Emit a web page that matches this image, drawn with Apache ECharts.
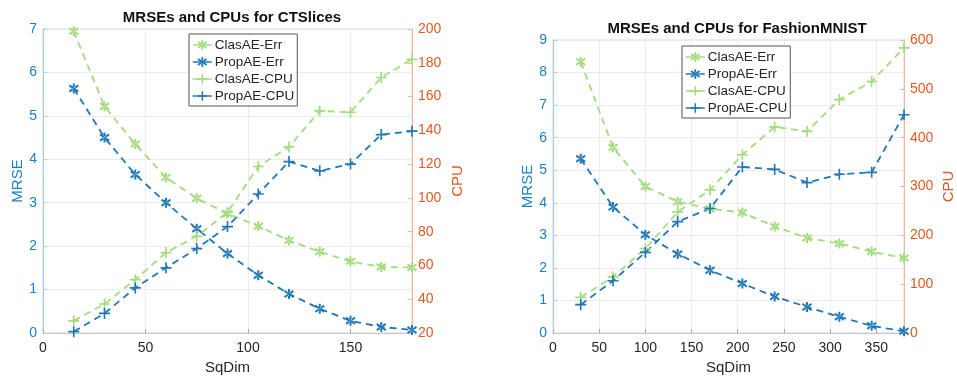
<!DOCTYPE html>
<html>
<head>
<meta charset="utf-8">
<script src="https://cdn.jsdelivr.net/npm/echarts@6/dist/echarts.min.js"></script>
<style>
  html, body { margin: 0; padding: 0; background: #fff; }
  #chart { width: 957px; height: 380px; }
</style>
</head>
<body>
<div id="chart"></div>
<script>
// CTSlices panel
const ctDims = [15, 30, 45, 60, 75, 90, 105, 120, 135, 150, 165, 180];
const ctClasErr = [6.95, 5.22, 4.35, 3.58, 3.1, 2.75, 2.46, 2.13, 1.87, 1.65, 1.52, 1.51];
const ctPropErr = [5.63, 4.5, 3.65, 3.0, 2.4, 1.83, 1.33, 0.9, 0.56, 0.28, 0.14, 0.07];
const ctClasCpu = [27.2, 37.2, 51.6, 67.6, 77.3, 91.5, 118.6, 130.2, 151.5, 150.7, 171.3, 182];
const ctPropCpu = [20.8, 31.6, 46.7, 58.6, 70, 83, 102.3, 121.5, 116, 120, 137.5, 139.5];

// FashionMNIST panel
const fmDims = [30, 65, 100, 135, 170, 205, 240, 275, 310, 345, 380];
const fmClasErr = [8.33, 5.7, 4.5, 4.03, 3.82, 3.7, 3.27, 2.92, 2.75, 2.5, 2.3];
const fmPropErr = [5.35, 3.87, 3.02, 2.43, 1.93, 1.52, 1.12, 0.8, 0.5, 0.22, 0.05];
const fmClasCpu = [73, 115, 173, 248, 293, 365, 422, 413, 478, 515, 584];
const fmPropCpu = [58, 107, 165, 228, 255, 340, 335, 308, 325, 329, 447];

const legendNames = ["ClasAE-Err", "PropAE-Err", "ClasAE-CPU", "PropAE-CPU"];

const blue = "#1f78b8";
const green = "#a3dc7c";
const axisBlue = "#1b80c8";
const axisOrange = "#e05a22";
const font = "'Liberation Sans', Arial, sans-serif";

// asterisk and plus markers (filled bars)
const starPath = "path://M8,0H12V20H8Z M0,5.5L2,2L20,14.5L18,18Z M0,14.5L2,18L20,5.5L18,2Z";
const plusPath = "path://M8.5,0H11.5V20H8.5Z M0,8.5H20V11.5H0Z";

const pairs = (xs, ys) => xs.map((x, i) => [x, ys[i]]);

function makeSeries(name, data, gi, yi, isStar, color) {
  return {
    name,
    type: "line",
    xAxisIndex: gi,
    yAxisIndex: yi,
    data,
    symbol: isStar ? starPath : plusPath,
    symbolSize: isStar ? 10 : 11,
    showSymbol: true,
    itemStyle: { color },
    lineStyle: { color, width: 1.8, type: [7, 5] },
    emphasis: { disabled: true },
    animation: false,
  };
}

function makeXAxis(gi, max, interval) {
  return {
    type: "value",
    gridIndex: gi,
    min: 0,
    max,
    interval,
    name: "SqDim",
    nameLocation: "middle",
    nameGap: 27,
    nameTextStyle: { color: "#262626", fontSize: 15, fontFamily: font },
    axisLine: { show: true, lineStyle: { color: "#c8c8c8" } },
    axisTick: { show: true, inside: true, length: 4, lineStyle: { color: "#aaa" } },
    axisLabel: { color: "#262626", fontSize: 14, fontFamily: font, margin: 8, showMaxLabel: false },
    splitLine: { show: true, lineStyle: { color: "#ebebeb" } },
  };
}

function makeYAxis(gi, pos, min, max, interval, name, color, lineColor, split, gap) {
  return {
    type: "value",
    gridIndex: gi,
    position: pos,
    min,
    max,
    interval,
    name,
    nameLocation: "middle",
    nameGap: gap,
    nameTextStyle: { color, fontSize: 15, fontFamily: font },
    axisLine: { show: true, onZero: false, lineStyle: { color: lineColor } },
    axisTick: { show: true, inside: true, length: 4, lineStyle: { color: lineColor } },
    axisLabel: { color, fontSize: 14, fontFamily: font, margin: 6 },
    splitLine: { show: split, lineStyle: { color: "#ebebeb" } },
  };
}

function makeLegend(left, top) {
  return {
    show: true,
    data: legendNames.map((n) => ({ name: n })),
    orient: "vertical",
    left,
    top,
    itemWidth: 19,
    itemHeight: 12,
    itemGap: 3,
    padding: [4, 3, 3, 3],
    borderColor: "#555",
    borderWidth: 1,
    backgroundColor: "#fff",
    selectedMode: false,
    lineStyle: { type: "solid", width: 1.5 },
    textStyle: { color: "#262626", fontSize: 13.5, fontFamily: font, padding: [0, 0, 0, -2] },
  };
}

const chart = echarts.init(document.getElementById("chart"));

chart.setOption({
  animation: false,
  backgroundColor: "#fff",
  title: [
    {
      text: "MRSEs and CPUs for CTSlices",
      left: 227,
      top: 5,
      textAlign: "center",
      textStyle: { fontSize: 15, fontWeight: "bold", color: "#111", fontFamily: font },
    },
    {
      text: "MRSEs and CPUs for FashionMNIST",
      left: 732,
      top: 16,
      textAlign: "center",
      textStyle: { fontSize: 15, fontWeight: "bold", color: "#111", fontFamily: font },
    },
  ],
  grid: [
    { left: 43, top: 29, width: 369, height: 307, show: true, borderColor: "#d8d8d8", borderWidth: 1, backgroundColor: "transparent" },
    { left: 553, top: 40, width: 357, height: 297, show: true, borderColor: "#d8d8d8", borderWidth: 1, backgroundColor: "transparent" },
  ],
  legend: [makeLegend(189, 34), makeLegend(682, 46)],
  xAxis: [makeXAxis(0, 180, 50), makeXAxis(1, 380, 50)],
  yAxis: [
    makeYAxis(0, "left", 0, 7, 1, "MRSE", axisBlue, "#a8cde9", true, 14),
    makeYAxis(0, "right", 20, 200, 20, "CPU", axisOrange, "#f0b79c", false, 38),
    makeYAxis(1, "left", 0, 9, 1, "MRSE", axisBlue, "#a8cde9", true, 18),
    makeYAxis(1, "right", 0, 600, 100, "CPU", axisOrange, "#f0b79c", false, 37),
  ],
  series: [
    makeSeries("ClasAE-Err", pairs(ctDims, ctClasErr), 0, 0, true, green),
    makeSeries("PropAE-Err", pairs(ctDims, ctPropErr), 0, 0, true, blue),
    makeSeries("ClasAE-CPU", pairs(ctDims, ctClasCpu), 0, 1, false, green),
    makeSeries("PropAE-CPU", pairs(ctDims, ctPropCpu), 0, 1, false, blue),
    makeSeries("ClasAE-Err", pairs(fmDims, fmClasErr), 1, 2, true, green),
    makeSeries("PropAE-Err", pairs(fmDims, fmPropErr), 1, 2, true, blue),
    makeSeries("ClasAE-CPU", pairs(fmDims, fmClasCpu), 1, 3, false, green),
    makeSeries("PropAE-CPU", pairs(fmDims, fmPropCpu), 1, 3, false, blue),
  ],
});
</script>
</body>
</html>
